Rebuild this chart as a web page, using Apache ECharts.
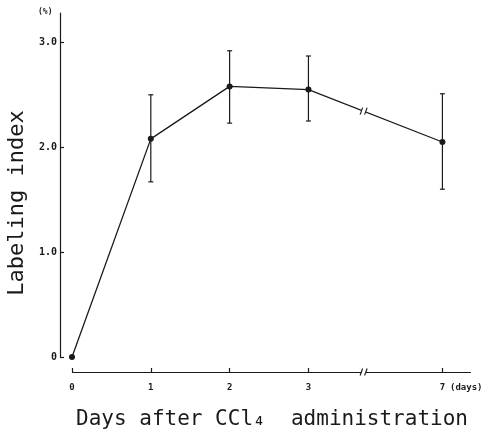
<!DOCTYPE html>
<html>
<head>
<meta charset="utf-8">
<script src="https://cdn.jsdelivr.net/npm/echarts@6/dist/echarts.min.js"></script>
<style>html,body{margin:0;padding:0;background:#fff}#c{width:490px;height:435px}</style>
</head>
<body>
<div id="c"></div>
<script>
// ---- data ----
var days = [0, 1, 2, 3, 7];
var meanIndex = [0, 2.08, 2.58, 2.55, 2.05];
var errLow = [null, 1.67, 2.23, 2.25, 1.60];
var errHigh = [null, 2.50, 2.92, 2.87, 2.51];
var xTickValues = [0, 1, 2, 3, 7];
var yTickValues = [0, 1, 2, 3];
var axisBreak = { start: 3.7, end: 6.0 };

var ink = '#1a1a1a';
var chart = echarts.init(document.getElementById('c'), null, { renderer: 'canvas' });

var lineData = days.map(function (d, i) { return [d, meanIndex[i]]; });
var errData = [];
days.forEach(function (d, i) { if (errLow[i] != null) errData.push([d, errLow[i], errHigh[i]]); });

var option = {
  animation: false,
  backgroundColor: '#fff',
  grid: { left: 72, right: 20, top: 13, bottom: 78 },
  xAxis: {
    type: 'value', min: 0, max: 7.35, interval: 1,
    offset: 15,
    breaks: [{ start: axisBreak.start, end: axisBreak.end, gap: 0 }],
    breakArea: { show: false },
    axisLine: { show: true, onZero: false, lineStyle: { color: ink, width: 1.2 } },
    axisTick: { show: true, inside: true, length: 4, customValues: xTickValues, lineStyle: { color: ink, width: 1.2 } },
    axisLabel: { customValues: xTickValues, color: ink, fontFamily: 'DejaVu Sans Mono', fontWeight: 'bold', fontSize: 9, margin: 11 },
    splitLine: { show: false }
  },
  yAxis: {
    type: 'value', min: 0, max: 3.28, interval: 1,
    offset: 12,
    axisLine: { show: true, onZero: false, lineStyle: { color: ink, width: 1.2 } },
    axisTick: { show: true, inside: true, length: 4, customValues: yTickValues, lineStyle: { color: ink, width: 1.2 } },
    axisLabel: {
      customValues: yTickValues, color: ink, fontFamily: 'DejaVu Sans Mono', fontWeight: 'bold', fontSize: 10, margin: 3,
      formatter: function (v) { return v === 0 ? '0' : v.toFixed(1); }
    },
    splitLine: { show: false }
  },
  series: [
    {
      type: 'line', data: lineData,
      symbol: 'circle', symbolSize: 6,
      lineStyle: { color: ink, width: 1.3 },
      itemStyle: { color: ink },
      z: 3
    },
    {
      type: 'custom', data: errData, z: 2,
      renderItem: function (params, api) {
        var x = api.value(0);
        var lo = api.coord([x, api.value(1)]);
        var hi = api.coord([x, api.value(2)]);
        var cw = 2.5;
        var st = { stroke: ink, lineWidth: 1.2 };
        return {
          type: 'group',
          children: [
            { type: 'line', shape: { x1: lo[0], y1: lo[1], x2: hi[0], y2: hi[1] }, style: st },
            { type: 'line', shape: { x1: hi[0] - cw, y1: hi[1], x2: hi[0] + cw, y2: hi[1] }, style: st },
            { type: 'line', shape: { x1: lo[0] - cw, y1: lo[1], x2: lo[0] + cw, y2: lo[1] }, style: st }
          ]
        };
      }
    }
  ]
};
chart.setOption(option);

// break marks ("//") on the x axis and on the line, positioned via the library's scales
var bx = chart.convertToPixel({ xAxisIndex: 0 }, axisBreak.start);
var y0 = chart.convertToPixel({ yAxisIndex: 0 }, 0);
var axisY = y0 + 15;
var p3 = chart.convertToPixel({ xAxisIndex: 0, yAxisIndex: 0 }, lineData[3]);
var p7 = chart.convertToPixel({ xAxisIndex: 0, yAxisIndex: 0 }, lineData[4]);
var t = (bx - p3[0]) / (p7[0] - p3[0]);
var lineY = p3[1] + t * (p7[1] - p3[1]);

function breakMark(cx, cy) {
  return [
    { type: 'rect', shape: { x: cx - 2, y: cy - 4, width: 4, height: 8 }, style: { fill: '#fff' }, z: 10 },
    { type: 'line', shape: { x1: cx - 3.5, y1: cy + 3.5, x2: cx - 1, y2: cy - 3.5 }, style: { stroke: ink, lineWidth: 1.1 }, z: 11 },
    { type: 'line', shape: { x1: cx + 1, y1: cy + 3.5, x2: cx + 3.5, y2: cy - 3.5 }, style: { stroke: ink, lineWidth: 1.1 }, z: 11 }
  ];
}

chart.setOption({
  graphic: [].concat(breakMark(bx, axisY), breakMark(bx, lineY), [
    { type: 'text', left: 38, top: 8, style: { text: '(%)', font: 'bold 8px "DejaVu Sans Mono"', fill: ink }, z: 12 },
    { type: 'text', x: 450, y: 383, style: { text: '(days)', font: 'bold 9px "DejaVu Sans Mono"', fill: ink }, z: 12 },
    { type: 'text', x: 17, y: 203, rotation: Math.PI / 2,
      style: { text: 'Labeling index', font: '22px "DejaVu Sans Mono"', fill: ink, align: 'center', verticalAlign: 'middle' }, z: 12 },
    { type: 'text', x: 272, y: 420,
      style: { text: 'Days after CCl\u2084  administration', font: '21px "DejaVu Sans Mono"', fill: ink, align: 'center', verticalAlign: 'middle' }, z: 12 }
  ])
});
</script>
</body>
</html>
